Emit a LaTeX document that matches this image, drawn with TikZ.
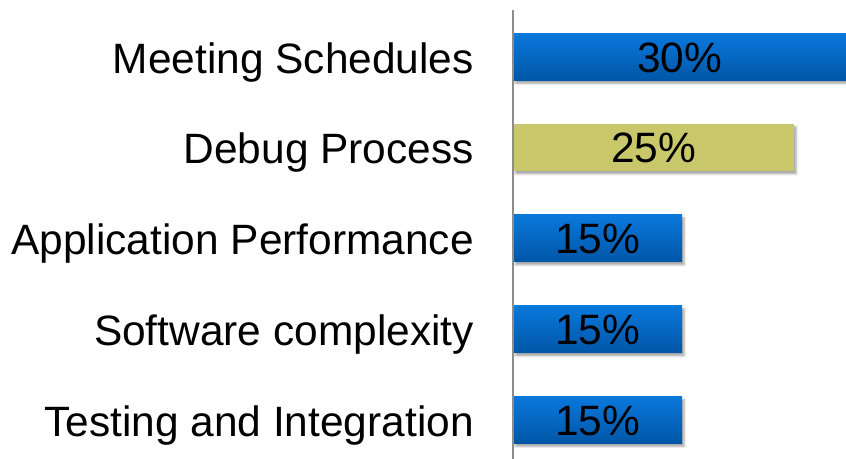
\documentclass[tikz,border=0pt]{standalone}
\usepackage{fontspec}
\setmainfont{Liberation Sans}
\usetikzlibrary{shadows.blur}
\definecolor{barTop}{HTML}{0A78DC}
\definecolor{barBot}{HTML}{0056A6}
\definecolor{barYel}{HTML}{C8C86A}

\begin{document}
\begin{tikzpicture}[x=1bp, y=1bp, every node/.style={font=\fontsize{42.6}{48}\selectfont, inner sep=0pt, text height=30.5bp, text depth=0pt},
	bar/.style={minimum height=47bp, anchor=west, blur shadow={shadow xshift=2bp, shadow yshift=-3bp, shadow blur steps=5, shadow opacity=35}},
	bluebar/.style={bar, top color=barTop, bottom color=barBot},
	yelbar/.style={bar, fill=barYel},
	lbl/.style={anchor=east}]
	\useasboundingbox (0,0) rectangle (846,459);
	\node[bluebar, minimum width=333bp] (b1) at (513,402) {30\%};
	\node[yelbar, minimum width=281bp] (b2) at (513,311.5) {25\%};
	\node[bluebar, minimum width=169bp] (b3) at (513,220.5) {15\%};
	\node[bluebar, minimum width=169bp] (b4) at (513,129.5) {15\%};
	\node[bluebar, minimum width=169bp] (b5) at (513,39) {15\%};
	\node[lbl] (l1) at (474,401) {Meeting Schedules};
	\node[lbl] (l2) at (474,310.5) {Debug Process};
	\node[lbl] (l3) at (474,219.5) {Application Performance};
	\node[lbl] (l4) at (474,128.5) {Software complexity};
	\node[lbl] (l5) at (474,38) {Testing and Integration};
	\draw[gray!90, line width=1.6bp] (513,449) -- (513,0);
\end{tikzpicture}
\end{document}
